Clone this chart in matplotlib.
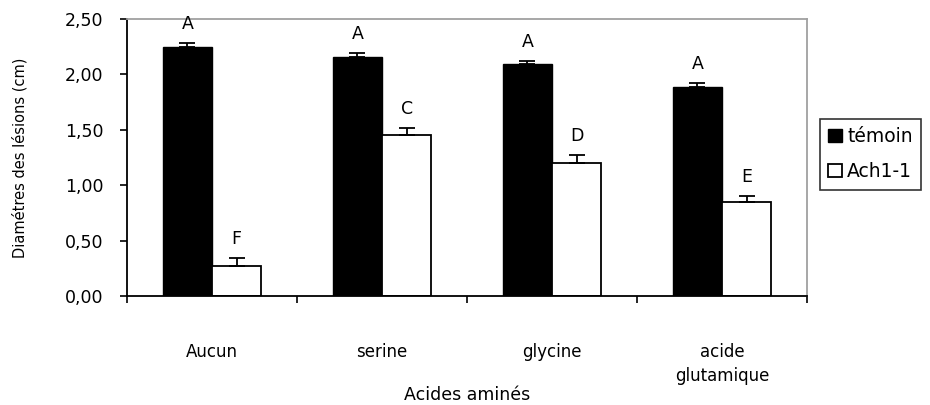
import numpy as np
import matplotlib.pyplot as plt

plt.rcParams["font.family"] = ["DejaVu Sans"]

acides = ["Aucun", "serine", "glycine", "acide\nglutamique"]
temoin = [2.25, 2.16, 2.09, 1.89]
temoin_err = [0.03, 0.03, 0.03, 0.03]
ach = [0.27, 1.45, 1.20, 0.85]
ach_err = [0.07, 0.07, 0.07, 0.055]
lettres_temoin = ["A", "A", "A", "A"]
lettres_ach = ["F", "C", "D", "E"]

fig = plt.figure(figsize=(9.3, 4.05), dpi=100)
ax = fig.add_axes([0.1366, 0.269, 0.7311, 0.684])

x = np.arange(len(acides))
w = 0.29
b1 = ax.bar(x - w / 2, temoin, w, color="black", edgecolor="black", linewidth=1,
            label="témoin")
b2 = ax.bar(x + w / 2, ach, w, color="white", edgecolor="black", linewidth=1.3,
            label="Ach1-1")
ax.errorbar(x - w / 2, temoin, yerr=[np.zeros(4), temoin_err], fmt="none",
            ecolor="black", elinewidth=1.3, capsize=6, capthick=1.3)
ax.errorbar(x + w / 2, ach, yerr=[np.zeros(4), ach_err], fmt="none",
            ecolor="black", elinewidth=1.3, capsize=6, capthick=1.3)

# lettres des groupes statistiques au-dessus des barres
for i in range(len(acides)):
    ax.text(x[i] - w / 2, temoin[i] + temoin_err[i] + 0.09, lettres_temoin[i],
            ha="center", va="bottom", fontsize=12.5, clip_on=False)
    ax.text(x[i] + w / 2, ach[i] + ach_err[i] + 0.09, lettres_ach[i],
            ha="center", va="bottom", fontsize=12.5, clip_on=False)

ax.set_xlim(-0.5, len(acides) - 0.5)
ax.set_ylim(0, 2.5)
yt = np.arange(0, 2.51, 0.5)
ax.set_yticks(yt)
ax.set_yticklabels([f"{v:.2f}".replace(".", ",") for v in yt], fontsize=12.5)
ax.set_xticks(np.arange(-0.5, len(acides), 1.0))
ax.set_xticklabels([])
ax.set_xticks(x, minor=True)
ax.set_xticklabels(acides, minor=True, fontsize=12, linespacing=1.4)
ax.tick_params(axis="x", which="minor", length=0, pad=34)
ax.tick_params(axis="x", which="major", length=5, direction="out", width=1.2)
ax.tick_params(axis="y", length=5, direction="out", width=1.2, pad=12)

for s in ["left", "bottom"]:
    ax.spines[s].set_linewidth(1.3)
for s in ["top", "right"]:
    ax.spines[s].set_color("#a0a0a0")
    ax.spines[s].set_linewidth(1.3)

ax.set_ylabel("Diamétres des lésions (cm)", fontsize=10.5)
ax.yaxis.set_label_coords(-0.147, 0.5)
ax.set_xlabel("Acides aminés", fontsize=12.5)
ax.xaxis.set_label_coords(0.5, -0.325)

leg = fig.legend(handles=[b1, b2], loc="upper left",
                 bbox_to_anchor=(820 / 930, 1 - 119 / 405), frameon=True,
                 fancybox=False, edgecolor="black", fontsize=13.5,
                 handlelength=0.7, handleheight=0.7, handletextpad=0.3,
                 borderpad=0.45, labelspacing=0.85, borderaxespad=0)
leg.get_frame().set_linewidth(1.2)

fig.savefig("out.png", dpi=100)
